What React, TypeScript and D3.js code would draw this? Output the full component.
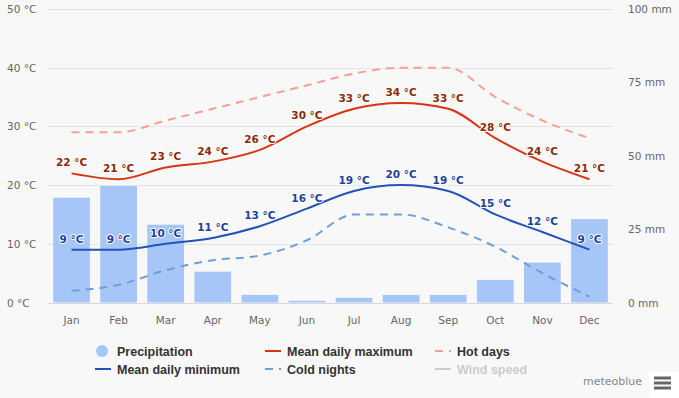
import * as d3 from 'd3';
import { useEffect, useRef } from 'react';

const months = ['Jan', 'Feb', 'Mar', 'Apr', 'May', 'Jun', 'Jul', 'Aug', 'Sep', 'Oct', 'Nov', 'Dec'];
const precipitation = [35.7, 39.7, 26.5, 10.5, 2.6, 0.6, 1.6, 2.6, 2.6, 7.7, 13.6, 28.4];
const meanMax = [22, 21, 23, 24, 26, 30, 33, 34, 33, 28, 24, 21];
const meanMin = [9, 9, 10, 11, 13, 16, 19, 20, 19, 15, 12, 9];
const hotDays = [29, 29, 31, 33, 35, 37, 39, 40, 40, 35, 31, 28];
const coldNights = [2, 3, 5.5, 7.2, 8, 10.6, 15, 15, 12.8, 9.5, 5, 1];
const tempTicks = [0, 10, 20, 30, 40, 50];
const mmTicks = [0, 25, 50, 75, 100];

export default function App() {
  const ref = useRef<SVGSVGElement>(null);

  // Define dimensions
  const width = 679;
  const height = 398;
  const margin = { left: 48, right: 66, top: 9, bottom: 95.5 };

  useEffect(() => {
    const svg = d3.select(ref.current);
    svg.selectAll('*').remove();
    const font = '"DejaVu Sans", Verdana, sans-serif';
    const legendFont = '"Liberation Sans", Arial, sans-serif';

    svg.append('rect').attr('width', width).attr('height', height).attr('fill', '#f8f8f8');

    const x = d3
      .scaleBand()
      .domain(months)
      .range([margin.left, width - margin.right])
      .padding(0);
    const cx = (m: string) => (x(m) as number) + x.bandwidth() / 2;
    const yT = d3.scaleLinear().domain([0, 50]).range([height - margin.bottom, margin.top]);
    const yP = d3.scaleLinear().domain([0, 100]).range([height - margin.bottom, margin.top]);

    // Grid lines
    svg
      .append('g')
      .selectAll('line')
      .data(tempTicks)
      .enter()
      .append('line')
      .attr('x1', margin.left)
      .attr('x2', width - margin.right)
      .attr('y1', (d) => Math.round(yT(d)) + 0.5)
      .attr('y2', (d) => Math.round(yT(d)) + 0.5)
      .attr('stroke', (d) => (d === 0 ? '#d8d8d8' : '#e4e4e4'))
      .attr('stroke-width', 1);

    // Left axis labels
    svg
      .append('g')
      .selectAll('text')
      .data(tempTicks)
      .enter()
      .append('text')
      .attr('x', 7)
      .attr('y', (d) => yT(d) + 4)
      .text((d) => `${d} °C`)
      .attr('font-family', font)
      .attr('font-size', 10.5)
      .attr('fill', '#666');

    // Right axis labels
    svg
      .append('g')
      .selectAll('text')
      .data(mmTicks)
      .enter()
      .append('text')
      .attr('x', 628)
      .attr('y', (d) => yP(d) + 4)
      .text((d) => `${d} mm`)
      .attr('font-family', font)
      .attr('font-size', 10.5)
      .attr('fill', '#666');

    // Month labels
    svg
      .append('g')
      .selectAll('text')
      .data(months)
      .enter()
      .append('text')
      .attr('x', (d) => cx(d))
      .attr('y', 324)
      .attr('text-anchor', 'middle')
      .text((d) => d)
      .attr('font-family', font)
      .attr('font-size', 10.5)
      .attr('fill', '#666');

    // Precipitation bars
    const barW = x.bandwidth() * 0.78;
    svg
      .append('g')
      .selectAll('rect')
      .data(precipitation)
      .enter()
      .append('rect')
      .attr('x', (d, i) => cx(months[i]) - barW / 2)
      .attr('y', (d) => yP(d))
      .attr('width', barW)
      .attr('height', (d) => yP(0) - yP(d))
      .attr('fill', '#a6c6f8');

    // Lines
    const line = (vals: number[]) =>
      d3
        .line<number>()
        .x((d, i) => cx(months[i]))
        .y((d) => yT(d))
        .curve(d3.curveMonotoneX)(vals);

    svg.append('path').attr('d', line(coldNights)).attr('fill', 'none')
      .attr('stroke', '#6c9fdc').attr('stroke-width', 2).attr('stroke-dasharray', '8 6');
    svg.append('path').attr('d', line(hotDays)).attr('fill', 'none')
      .attr('stroke', '#f5a094').attr('stroke-width', 2).attr('stroke-dasharray', '8 6');
    svg.append('path').attr('d', line(meanMin)).attr('fill', 'none')
      .attr('stroke', '#2452b8').attr('stroke-width', 2);
    svg.append('path').attr('d', line(meanMax)).attr('fill', 'none')
      .attr('stroke', '#d93412').attr('stroke-width', 2);

    // Data labels
    const labels = (vals: number[], color: string) =>
      svg
        .append('g')
        .selectAll('text')
        .data(vals)
        .enter()
        .append('text')
        .attr('x', (d, i) => cx(months[i]))
        .attr('y', (d) => yT(d) - 7)
        .attr('text-anchor', 'middle')
        .text((d) => `${d} °C`)
        .attr('font-family', font)
        .attr('font-size', 10.5)
        .attr('font-weight', 'bold')
        .attr('fill', color)
        .attr('stroke', '#ffffff')
        .attr('stroke-width', 2)
        .attr('stroke-linejoin', 'round')
        .attr('paint-order', 'stroke');
    labels(meanMax, '#8a2a06');
    labels(meanMin, '#22409a');

    // Legend
    const legend = svg.append('g').attr('font-family', legendFont).attr('font-size', 12.5).attr('font-weight', 'bold');
    const items = [
      { name: 'Precipitation', x: 96, y: 351, kind: 'circle', color: '#a6c6f8' },
      { name: 'Mean daily maximum', x: 265, y: 351, kind: 'line', color: '#d93412' },
      { name: 'Hot days', x: 435, y: 351, kind: 'dash', color: '#f5a094' },
      { name: 'Mean daily minimum', x: 95, y: 369, kind: 'line', color: '#2452b8' },
      { name: 'Cold nights', x: 265, y: 369, kind: 'dash', color: '#6c9fdc' },
      { name: 'Wind speed', x: 435, y: 369, kind: 'line', color: '#cccccc' },
    ];
    items.forEach((it) => {
      if (it.kind === 'circle') {
        legend.append('circle').attr('cx', it.x + 6).attr('cy', it.y).attr('r', 6).attr('fill', it.color);
      } else {
        legend
          .append('line')
          .attr('x1', it.x)
          .attr('x2', it.x + 16)
          .attr('y1', it.y)
          .attr('y2', it.y)
          .attr('stroke', it.color)
          .attr('stroke-width', 2)
          .attr('stroke-dasharray', it.kind === 'dash' ? '8 6' : null);
      }
      legend
        .append('text')
        .attr('x', it.kind === 'circle' ? it.x + 21 : it.x + 22)
        .attr('y', it.y + 4.5)
        .text(it.name)
        .attr('fill', it.name === 'Wind speed' ? '#cccccc' : '#333333');
    });

    // Credits and menu
    svg
      .append('text')
      .attr('x', 642)
      .attr('y', 385)
      .attr('text-anchor', 'end')
      .text('meteoblue')
      .attr('font-family', font)
      .attr('font-size', 11)
      .attr('fill', '#888');
    svg.append('rect').attr('x', 649).attr('y', 372).attr('width', 30).attr('height', 26).attr('fill', '#ffffff');
    [378, 383, 388].forEach((yy) =>
      svg.append('line').attr('x1', 654).attr('x2', 671).attr('y1', yy).attr('y2', yy)
        .attr('stroke', '#666').attr('stroke-width', 3),
    );
  }, []);

  return (
    <svg
      ref={ref}
      width={width}
      height={height}
      style={{ position: 'absolute', left: 0, top: 0, display: 'block' }}
    />
  );
}
